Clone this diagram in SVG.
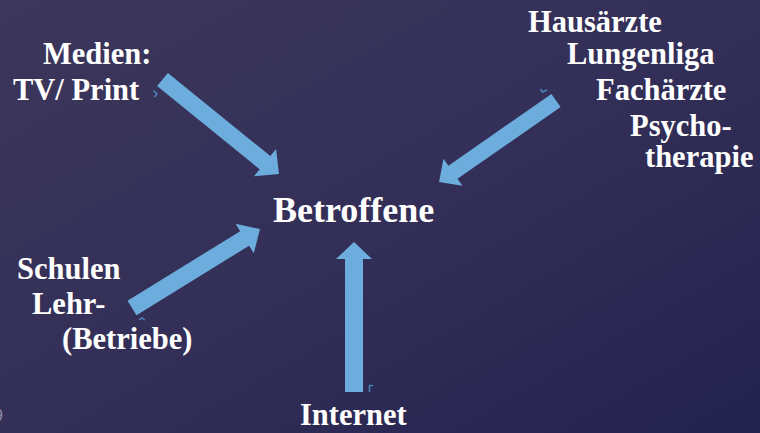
<svg xmlns="http://www.w3.org/2000/svg" width="760" height="433" viewBox="0 0 760 433">
<defs>
<linearGradient id="bg" x1="0" y1="0" x2="1" y2="1">
<stop offset="0" stop-color="#3c365a"/>
<stop offset="0.5" stop-color="#332f58"/>
<stop offset="1" stop-color="#23224e"/>
</linearGradient>
</defs>
<style>
.t{font-family:"Liberation Serif","Times New Roman",serif;font-weight:bold;font-size:30.5px;fill:#ffffff}
.big{font-size:36px}
.arr{fill:#6cadde}
.mk{fill:none;stroke:#4a86b8;stroke-width:1.5}
</style>
<rect width="760" height="433" fill="url(#bg)"/>
<g id="connectors">
<polygon class="arr" points="157.1,86.1 259.7,169.3 254.0,176.3 279,174 276.1,149.1 270.4,156.1 167.9,72.9"/>
<polygon class="arr" points="551.4,93.9 448.4,165.7 443.5,158.7 439,182 462.4,185.8 457.5,178.8 560.6,107.1"/>
<polygon class="arr" points="136.5,315.2 249.1,245.7 253.8,253.2 260,229 235.6,223.7 240.2,231.2 127.5,300.8"/>
<polygon class="arr" points="345,392 345,259 336,259 354,242 372,259 363,259 363,392"/>
<path class="mk" d="M153.5,90.5 L157,94 L154.5,97"/>
<path class="mk" d="M540.5,89 L542.5,92 L547,90"/>
<path class="mk" d="M369.5,392 V385.5 H373"/>
<path class="mk" d="M139,320 L142,318 L145,320"/>
</g>
<g id="medien"><text class="t" x="43" y="64">Medien:</text><text class="t" x="13" y="100">TV/ Print</text></g>
<g id="aerzte">
<text class="t" x="528" y="32">Hausärzte</text>
<text class="t" x="567" y="64">Lungenliga</text>
<text class="t" x="596" y="100">Fachärzte</text>
<text class="t" x="630" y="136">Psycho-</text>
<text class="t" x="645" y="167">therapie</text>
</g>
<g id="betroffene"><text class="t big" x="273" y="222">Betroffene</text></g>
<g id="schulen">
<text class="t" x="17" y="279">Schulen</text>
<text class="t" x="32" y="314">Lehr-</text>
<text class="t" x="62" y="349">(Betriebe)</text>
</g>
<g id="internet"><text class="t" x="300" y="425">Internet</text></g>
<text x="-6" y="421" style="font-family:'Liberation Sans',sans-serif;font-size:16px;fill:#8e8bab">9</text>
</svg>
